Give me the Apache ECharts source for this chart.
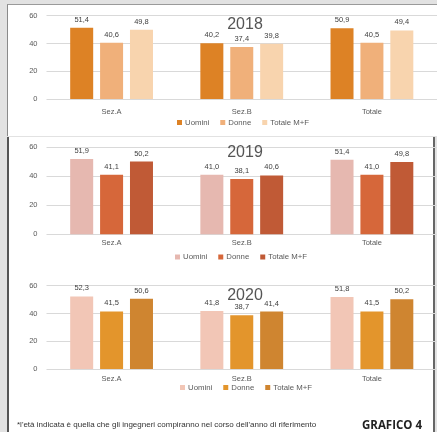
<!DOCTYPE html>
<html>
<head>
<meta charset="utf-8">
<script src="https://cdn.jsdelivr.net/npm/echarts@6/dist/echarts.min.js"></script>
<style>
  html, body { margin: 0; padding: 0; background: #e2e2e2; }
  #wrap { position: relative; width: 437px; height: 432px; overflow: hidden; background: #e2e2e2; }
  .panel { position: absolute; background: #ffffff; }
  #chart { position: absolute; left: 0; top: 0; width: 437px; height: 432px; }
</style>
</head>
<body>
<div id="wrap">
  <div class="panel" style="left:7px; top:4px; width:430px; height:131px; border-left:1px solid #8a8a8a; border-top:1px solid #9a9a9a;"></div>
  <div class="panel" style="left:7px; top:137px; width:424px; height:295px; border-left:2px solid #555; border-right:2px solid #666;"></div>
  <div id="chart"></div>
</div>
<script>
const categories = ['Sez.A', 'Sez.B', 'Totale'];
const seriesNames = ['Uomini', 'Donne', 'Totale M+F'];
const years = ['2018', '2019', '2020'];
const yTicks = [0, 20, 40, 60];

const uomini2018 = [51.4, 40.2, 50.9];
const donne2018  = [40.6, 37.4, 40.5];
const totale2018 = [49.8, 39.8, 49.4];

const uomini2019 = [51.9, 41.0, 51.4];
const donne2019  = [41.1, 38.1, 41.0];
const totale2019 = [50.2, 40.6, 49.8];

const uomini2020 = [52.3, 41.8, 51.8];
const donne2020  = [41.5, 38.7, 41.5];
const totale2020 = [50.6, 41.4, 50.2];

const colors2018 = ['#DD8225', '#F0B07A', '#F8D4AE'];
const colors2019 = ['#E6B8B0', '#D6673A', '#C05A36'];
const colors2020 = ['#F2C6B6', '#E3952C', '#CF8530'];

const footnote = "*l'età indicata è quella che gli ingegneri compiranno nel corso dell'anno di riferimento";
const badge = 'GRAFICO 4';

const panels = [
  { year: years[0], data: [uomini2018, donne2018, totale2018], colors: colors2018,
    top: 15.7, height: 83.3, titleTop: 12, legendTop: 113.5, legendLeft: 172, catMargin: 9 },
  { year: years[1], data: [uomini2019, donne2019, totale2019], colors: colors2019,
    top: 147.3, height: 87, titleTop: 140, legendTop: 248, legendLeft: 170, catMargin: 5 },
  { year: years[2], data: [uomini2020, donne2020, totale2020], colors: colors2020,
    top: 285.7, height: 83.3, titleTop: 283, legendTop: 378.5, legendLeft: 175, catMargin: 5.5 }
];

const grid = [], xAxis = [], yAxis = [], series = [], legend = [], title = [];
const txt = '#595959';
panels.forEach((p, i) => {
  grid.push({ left: 46.5, right: -8.5, top: p.top, height: p.height, containLabel: false });
  xAxis.push({
    type: 'category', gridIndex: i, data: categories,
    axisLine: { show: false }, axisTick: { show: false },
    axisLabel: { color: txt, fontSize: 7.5, margin: p.catMargin, fontFamily: 'Liberation Sans' }
  });
  yAxis.push({
    type: 'value', gridIndex: i, min: yTicks[0], max: yTicks[yTicks.length - 1], interval: 20,
    axisLine: { show: false }, axisTick: { show: false },
    axisLabel: { color: txt, fontSize: 7.5, margin: 9, fontFamily: 'Liberation Sans' },
    splitLine: { lineStyle: { color: '#d9d9d9', width: 1 } }
  });
  p.data.forEach((vals, k) => {
    series.push({
      type: 'bar', name: seriesNames[k], xAxisIndex: i, yAxisIndex: i,
      data: vals, barWidth: 23, barGap: '30%',
      itemStyle: { color: p.colors[k] },
      label: {
        show: true, position: 'top', distance: 4, color: '#404040', fontSize: 7.5,
        fontFamily: 'Liberation Sans',
        formatter: (d) => d.value.toFixed(1).replace('.', ',')
      }
    });
  });
  legend.push({
    left: p.legendLeft, top: p.legendTop, itemWidth: 5, itemHeight: 5, itemGap: 11,
    icon: 'rect', selectedMode: false,
    textStyle: { color: txt, fontSize: 7.8, fontFamily: 'Liberation Sans', padding: [0, 0, 0, -2] },
    data: seriesNames.map((n, k) => ({ name: n, itemStyle: { color: p.colors[k] } }))
  });
  title.push({
    text: p.year, left: 240, top: p.titleTop, textAlign: 'center',
    textStyle: { color: '#555555', fontSize: 16, fontWeight: 'normal', fontFamily: 'Liberation Sans' }
  });
});

const chart = echarts.init(document.getElementById('chart'), null, { renderer: 'canvas' });
chart.setOption({
  backgroundColor: 'transparent',
  animation: false,
  title, grid, xAxis, yAxis, series, legend,
  graphic: [
    { type: 'text', left: 17, top: 421, style: { text: footnote, fill: '#333', fontSize: 8, fontFamily: 'Liberation Sans' } },
    { type: 'text', left: 362, top: 420, style: { text: badge, fill: '#222', fontSize: 11.5, fontWeight: 'bold', fontFamily: 'Open Sans' } }
  ]
});
</script>
</body>
</html>
